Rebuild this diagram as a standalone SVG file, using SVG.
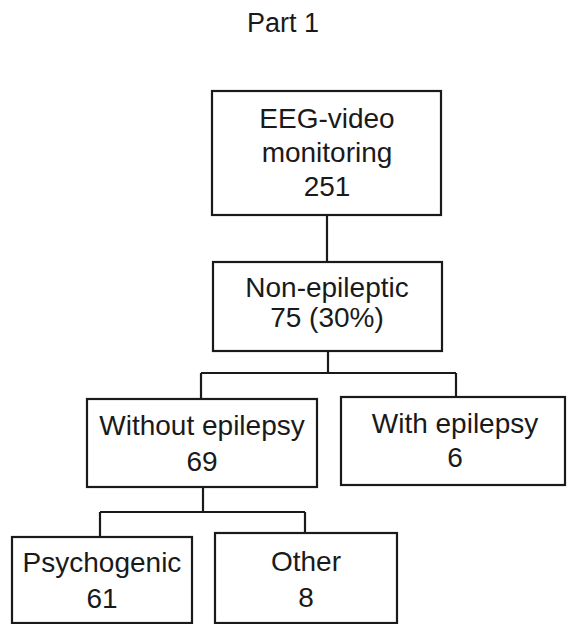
<svg xmlns="http://www.w3.org/2000/svg" width="569" height="624" viewBox="0 0 569 624">
  <style>
    .box { fill: #ffffff; stroke: #1a1a1a; stroke-width: 2.2; }
    .lbl { font-family: "Liberation Sans", Arial, sans-serif; font-size: 28px; fill: #1a1a1a; text-anchor: middle; }
    .conn { fill: none; stroke: #1a1a1a; stroke-width: 2.2; }
  </style>
  <rect width="569" height="624" fill="#ffffff"/>
  <text class="lbl" x="283" y="32" style="font-size:27px">Part 1</text>
  <g id="connectors">
    <path class="conn" d="M327 215 V262"/>
    <path class="conn" d="M328 351 V373 M201 373 H456 M201 373 V399 M456 373 V397"/>
    <path class="conn" d="M203 487 V512 M100 512 H305 M100 512 V537 M305 512 V533"/>
  </g>
  <g id="eeg">
    <rect class="box" x="212" y="91" width="229" height="124"/>
    <text class="lbl" x="327" y="128">EEG-video</text>
    <text class="lbl" x="327" y="162">monitoring</text>
    <text class="lbl" x="327" y="196">251</text>
  </g>
  <g id="nonepileptic">
    <rect class="box" x="213" y="262" width="229" height="89"/>
    <text class="lbl" x="327" y="297">Non-epileptic</text>
    <text class="lbl" x="327" y="327">75 (30%)</text>
  </g>
  <g id="without">
    <rect class="box" x="87" y="399" width="230" height="88"/>
    <text class="lbl" x="202" y="435">Without epilepsy</text>
    <text class="lbl" x="202" y="471">69</text>
  </g>
  <g id="with">
    <rect class="box" x="341" y="397" width="224" height="88"/>
    <text class="lbl" x="455" y="433">With epilepsy</text>
    <text class="lbl" x="455" y="467">6</text>
  </g>
  <g id="psychogenic">
    <rect class="box" x="12" y="537" width="180" height="86"/>
    <text class="lbl" x="102" y="572">Psychogenic</text>
    <text class="lbl" x="102" y="608">61</text>
  </g>
  <g id="other">
    <rect class="box" x="215" y="533" width="182" height="90"/>
    <text class="lbl" x="306" y="571">Other</text>
    <text class="lbl" x="306" y="607">8</text>
  </g>
</svg>
